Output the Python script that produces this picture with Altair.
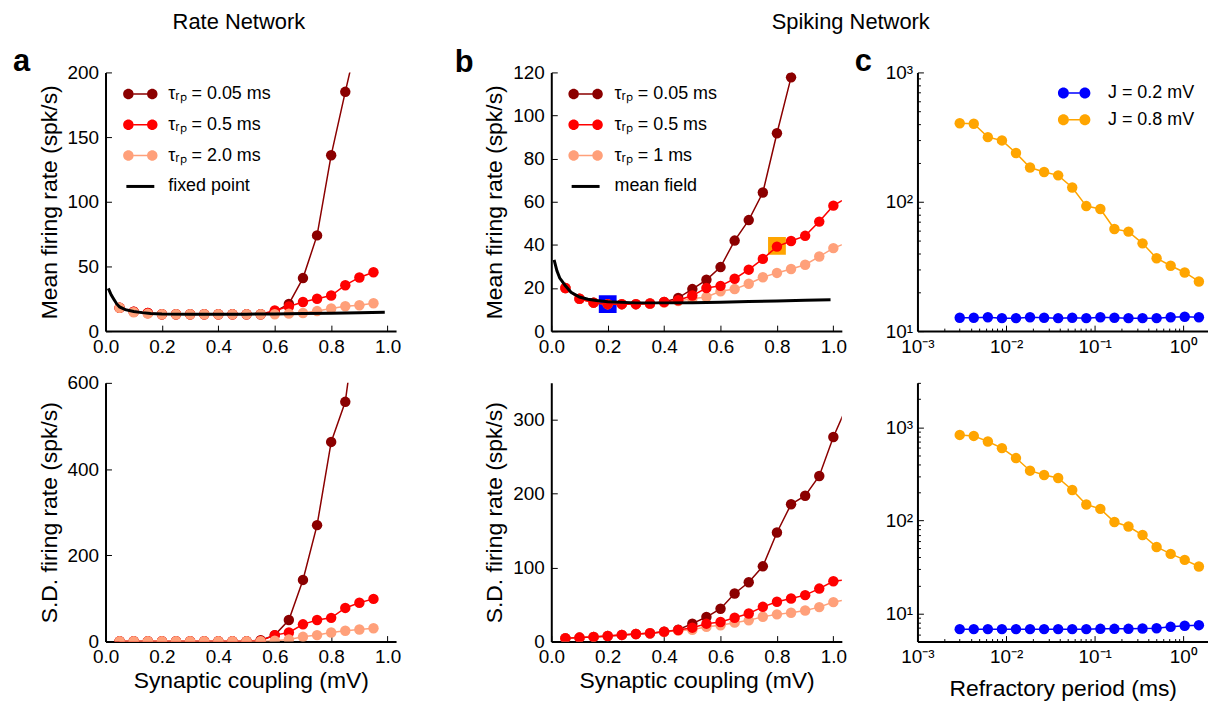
import altair as alt
import pandas as pd

FONT = "Liberation Sans"
DARK, RED, PALE = "#8b0000", "#ff0000", "#ffa07a"
BLUE, ORANGE = "#0000ff", "#ffa500"

# ---------------- data: panel a (rate network) ----------------
a_x = [0.05, 0.10, 0.15, 0.20, 0.25, 0.30, 0.35, 0.40, 0.45, 0.50,
       0.55, 0.60, 0.65, 0.70, 0.75, 0.80, 0.85, 0.90, 0.95]
a_mean_005 = [18, 15, 14, 13, 13, 13, 13, 13, 13, 13, 13, 15, 21, 41, 74, 136, 185, 232]
a_mean_05 = [18, 15, 14, 13, 13, 13, 13, 13, 13, 13, 13, 16, 19, 22.5, 25, 27.5, 35.5, 41.5, 45.5]
a_mean_20 = [18, 14.6, 13.5, 13, 13, 13, 13, 13, 13, 13, 13, 13, 13.5, 14, 15.5, 17.5, 19.2, 20, 21.5]
a_sd_005 = [1, 1, 1, 1, 1, 1, 1, 1, 1, 1, 3, 15, 50, 143, 270, 463, 556, 800]
a_sd_05 = [1, 1, 1, 1, 1, 1, 1, 1, 1, 1, 2, 15, 21, 40, 50, 55, 78, 90, 99]
a_sd_20 = [1, 1, 1, 1, 1, 1, 1, 1, 1, 1, 1, 2, 5, 11, 15, 21, 25, 28, 31]
fp_x = [0.01, 0.02, 0.03, 0.04, 0.05, 0.07, 0.10, 0.13, 0.16, 0.20,
        0.30, 0.40, 0.50, 0.60, 0.70, 0.80, 0.90, 0.99]
fp_y = [33, 28, 24.5, 21, 18.7, 16.6, 15.2, 14.3, 13.7, 13.3,
        13, 13, 13.1, 13.3, 13.6, 13.9, 14.2, 14.5]

# ---------------- data: panel b (spiking network) ----------------
b_x = [0.05, 0.10, 0.15, 0.20, 0.25, 0.30, 0.35, 0.40, 0.45, 0.50,
       0.55, 0.60, 0.65, 0.70, 0.75, 0.80, 0.85, 0.90, 0.95, 1.00, 1.05]
b_mean_005 = [20, 15, 13.2, 12.5, 12.5, 12.5, 12.8, 13.5, 15.4, 19.5,
              23.8, 29.7, 42, 51.5, 64.3, 91.8, 117.7, 150]
b_mean_05 = [20, 15, 13.2, 12.5, 12.5, 12.5, 12.8, 13.5, 14.3, 16.5,
             20, 21, 24.3, 28.5, 33.5, 39.2, 41.8, 44.2, 50.8, 58.2, 62]
b_mean_1 = [20, 15, 13.2, 12.5, 12.5, 12.5, 12.8, 13.3, 14, 15,
            15.8, 18.5, 19.5, 22, 25, 27, 28.8, 30.8, 34.6, 38.5, 41]
b_sd_005 = [4.5, 5.4, 6.3, 7.6, 9, 10.3, 11.2, 13.4, 16, 24.2,
            33.2, 44.4, 65, 80.3, 101.8, 147.5, 185.7, 197.3, 224, 276.7, 320]
b_sd_05 = [4.5, 5.4, 6.3, 7.6, 9, 10.3, 11.2, 13.4, 15.7, 18.8,
           24.2, 26.5, 32.3, 38, 47, 53.8, 58.3, 62.8, 71.7, 81.6, 84]
b_sd_1 = [4.5, 5.4, 6.3, 7.6, 9, 10.3, 11.2, 13, 15, 16,
          20, 22, 25.6, 28.7, 33.6, 36.8, 39, 42, 46.6, 53.4, 57]
mf_x = [0.01, 0.02, 0.03, 0.04, 0.05, 0.07, 0.10, 0.13, 0.16, 0.20,
        0.30, 0.40, 0.50, 0.60, 0.70, 0.80, 0.90, 0.99]
mf_y = [33, 28, 24.6, 22.8, 21, 18, 15.8, 14.8, 14.2, 13.6,
        13.1, 13.1, 13.2, 13.4, 13.7, 14, 14.3, 14.6]
sq_blue_x, sq_blue_y = [0.2], [12.5]
sq_orange_x, sq_orange_y = [0.8], [39.5]

# ---------------- data: panel c (refractory period) ----------------
c_x = [0.003, 0.00432, 0.00623, 0.00898, 0.01294, 0.01864, 0.02687, 0.03872, 0.05579,
       0.0804, 0.1159, 0.167, 0.2406, 0.3467, 0.4996, 0.72, 1.0375, 1.5]
c_mean_08 = [405, 401, 316, 298, 238, 184, 170, 160, 129, 92.6, 87.9, 61.6, 58.8, 47.7, 36.6, 32, 28.4, 24.2]
c_mean_02 = [12.7, 12.7, 12.8, 12.6, 12.6, 12.8, 12.7, 12.6, 12.7, 12.6, 12.8, 12.7, 12.6, 12.6, 12.6, 12.8, 12.9, 12.8]
c_sd_08 = [828, 808, 703, 597, 467, 342, 307, 285, 212, 148, 133, 96, 86, 69.7, 51.9, 43.7, 37.7, 32]
c_sd_02 = [6.8, 6.8, 6.8, 6.8, 6.8, 6.8, 6.8, 6.8, 6.8, 6.8, 6.85, 6.85, 6.85, 6.9, 6.95, 7.2, 7.4, 7.5]

# ---------------- labels / ticks ----------------
lab_a = ["τᵣₚ = 0.05 ms", "τᵣₚ = 0.5 ms", "τᵣₚ = 2.0 ms", "fixed point"]
lab_b = ["τᵣₚ = 0.05 ms", "τᵣₚ = 0.5 ms", "τᵣₚ = 1 ms", "mean field"]
lab_c = ["J = 0.2 mV", "J = 0.8 mV"]
lin_x_ticks = [0.0, 0.2, 0.4, 0.6, 0.8, 1.0]
log_x_ticks = [0.001, 0.002, 0.003, 0.004, 0.005, 0.006, 0.007, 0.008, 0.009,
               0.01, 0.02, 0.03, 0.04, 0.05, 0.06, 0.07, 0.08, 0.09,
               0.1, 0.2, 0.3, 0.4, 0.5, 0.6, 0.7, 0.8, 0.9, 1.0]
log_y_ticks_top = [10, 20, 30, 40, 50, 60, 70, 80, 90, 100, 200, 300, 400, 500, 600, 700, 800, 900, 1000]
log_y_ticks_bot = [6, 7, 8, 9] + log_y_ticks_top + [2000, 3000]

W, H = 292, 260
TICK_FS, TITLE_FS = 19, 23


def dots_path(c, r, t):
    return (f"M {-c - r} 0 A {r} {r} 0 1 0 {-c + r} 0 A {r} {r} 0 1 0 {-c - r} 0 Z "
            f"M {c - r} 0 A {r} {r} 0 1 0 {c + r} 0 A {r} {r} 0 1 0 {c - r} 0 Z "
            f"M {-c + r} {-t} L {c - r} {-t} L {c - r} {t} L {-c + r} {t} Z")


P_DOTS = dots_path(1.0, 0.44, 0.065)
P_DOTS_C = dots_path(0.9, 0.46, 0.065)
P_LINE = "M -1.17 -0.125 L 1.17 -0.125 L 1.17 0.125 L -1.17 0.125 Z"

AX = dict(domainColor="black", domainWidth=2, tickColor="black", tickWidth=1,
          labelFont=FONT, labelFontSize=TICK_FS, labelColor="black", labelFlush=False,
          labelOverlap=False, grid=False, titleFont=FONT, titleFontSize=TITLE_FS,
          titleFontWeight="normal", titleColor="black")


def lin_x(title=None):
    return alt.Axis(values=lin_x_ticks, format=".1f", title=title, tickSize=alt.ExprRef("-6"),
                    labelPadding=12, titlePadding=3, **AX)


def lin_y(values, title):
    return alt.Axis(values=values, format="d", title=title, tickSize=alt.ExprRef("-6"),
                    labelPadding=13, titlePadding=6, **AX)


MAJOR = "indexof([0.001, 0.01, 0.1, 1, 10, 100, 1000], datum.value) >= 0 ? -6 : -3"
X_LOG_LAB = ("datum.value == 0.001 ? '10⁻³' : datum.value == 0.01 ? '10⁻²' : "
             "datum.value == 0.1 ? '10⁻¹' : datum.value == 1 ? '10⁰' : ''")
Y_LOG_LAB = ("datum.value == 10 ? '10¹' : datum.value == 100 ? '10²' : "
             "datum.value == 1000 ? '10³' : ''")


def log_x(title=None):
    return alt.Axis(values=log_x_ticks, labelExpr=X_LOG_LAB, title=title, tickSize=alt.ExprRef(MAJOR),
                    labelPadding=12, titlePadding=8, **AX)


def log_y(values):
    return alt.Axis(values=values, labelExpr=Y_LOG_LAB, title=None, tickSize=alt.ExprRef(MAJOR),
                    labelPadding=11, **AX)


class Panel:
    def __init__(self, xsc, ysc, xax, yax):
        self.xsc, self.ysc, self.xax, self.yax = xsc, ysc, xax, yax

    def xy(self):
        return dict(x=alt.X("x:Q", scale=self.xsc, axis=self.xax),
                    y=alt.Y("y:Q", scale=self.ysc, axis=self.yax))

    def series(self, xs, ys, color, width=1.5, dots=True):
        df = pd.DataFrame({"x": xs[:len(ys)], "y": ys})
        base = alt.Chart(df)
        out = [base.mark_line(color=color, strokeWidth=width, clip=True).encode(**self.xy())]
        if dots:
            out.append(base.mark_circle(color=color, size=110, opacity=1, clip=True).encode(**self.xy()))
        return out

    def squares(self, xs, ys, color):
        return alt.Chart(pd.DataFrame({"x": xs, "y": ys})).mark_square(
            size=320, color=color, opacity=1, clip=True).encode(**self.xy())

    def guide(self, frames, domain=None, colors=None, shapes=None, legend=None):
        df = pd.concat(frames, ignore_index=True)
        enc = self.xy()
        if legend is not None:
            enc["color"] = alt.Color("series:N", scale=alt.Scale(domain=domain, range=colors), legend=legend)
            enc["shape"] = alt.Shape("series:N", scale=alt.Scale(domain=domain, range=shapes), legend=legend)
        return alt.Chart(df).mark_point(filled=True, opacity=0, clip=True).encode(**enc)


def frame(xs, ys, name):
    return pd.DataFrame({"x": xs[:len(ys)], "y": ys, "series": name})


def make_legend(lx, ly, rowpad, loff):
    return alt.Legend(title=None, orient="none", legendX=lx, legendY=ly, symbolSize=576,
                      symbolStrokeWidth=0, symbolOpacity=1, labelFont=FONT, labelFontSize=18,
                      labelColor="black", labelOffset=loff, rowPadding=rowpad, padding=0,
                      labelLimit=400)


one = pd.DataFrame({"k": [0]})


def text(t, x, y, size, weight="normal", align="left"):
    return alt.Chart(one).mark_text(
        text=t, font=FONT, fontSize=size, fontWeight=weight, align=align,
        baseline="alphabetic", color="black").encode(x=alt.value(x), y=alt.value(y))


anchor = alt.Chart(one).mark_circle(size=1, opacity=0).encode(x=alt.value(-97), y=alt.value(-62))

# ---------------- panel a ----------------
xs_lin = alt.Scale(domain=[0, 1.03], nice=False, zero=False)

pa1 = Panel(xs_lin, alt.Scale(domain=[0, 200], nice=False), lin_x(),
            lin_y([0, 50, 100, 150, 200], "Mean firing rate (spk/s)"))
a_top = alt.layer(
    pa1.guide([frame(a_x, a_mean_05, lab_a[1]), frame(fp_x, fp_y, lab_a[3]),
               frame(a_x, a_mean_005, lab_a[0]), frame(a_x, a_mean_20, lab_a[2])],
              lab_a, [DARK, RED, PALE, "black"], [P_DOTS, P_DOTS, P_DOTS, P_LINE],
              make_legend(23, 9.6, 10, 16)),
    *pa1.series(a_x, a_mean_005, DARK),
    *pa1.series(a_x, a_mean_05, RED),
    *pa1.series(a_x, a_mean_20, PALE),
    *pa1.series(fp_x, fp_y, "black", width=3, dots=False),
    text("a", -93, -1, 31, "bold"),
    text("Rate Network", 134, -44, 22, align="center"),
    anchor,
).properties(width=W, height=H)

pa2 = Panel(xs_lin, alt.Scale(domain=[0, 600], nice=False), lin_x("Synaptic coupling (mV)"),
            lin_y([0, 200, 400, 600], "S.D. firing rate (spk/s)"))
a_bot = alt.layer(
    *pa2.series(a_x, a_sd_005, DARK),
    *pa2.series(a_x, a_sd_05, RED),
    *pa2.series(a_x, a_sd_20, PALE),
).properties(width=W, height=H)

# ---------------- panel b ----------------
pb1 = Panel(xs_lin, alt.Scale(domain=[0, 120], nice=False), lin_x(),
            lin_y([0, 20, 40, 60, 80, 100, 120], "Mean firing rate (spk/s)"))
b_top = alt.layer(
    pb1.guide([frame(b_x, b_mean_05, lab_b[1]), frame(mf_x, mf_y, lab_b[3]),
               frame(b_x, b_mean_005, lab_b[0]), frame(b_x, b_mean_1, lab_b[2])],
              lab_b, [DARK, RED, PALE, "black"], [P_DOTS, P_DOTS, P_DOTS, P_LINE],
              make_legend(22.5, 9.6, 10, 17)),
    pb1.squares(sq_blue_x, sq_blue_y, BLUE),
    pb1.squares(sq_orange_x, sq_orange_y, ORANGE),
    *pb1.series(b_x, b_mean_005, DARK),
    *pb1.series(b_x, b_mean_1, PALE),
    *pb1.series(b_x, b_mean_05, RED),
    *pb1.series(mf_x, mf_y, "black", width=3, dots=False),
    text("b", -97, 0, 31, "bold"),
    text("Spiking Network", 301, -44, 22, align="center"),
).properties(width=W, height=H)

pb2 = Panel(xs_lin, alt.Scale(domain=[0, 350], nice=False), lin_x("Synaptic coupling (mV)"),
            lin_y([0, 100, 200, 300], "S.D. firing rate (spk/s)"))
b_bot = alt.layer(
    *pb2.series(b_x, b_sd_005, DARK),
    *pb2.series(b_x, b_sd_1, PALE),
    *pb2.series(b_x, b_sd_05, RED),
).properties(width=W, height=H)

# ---------------- panel c ----------------
xs_log = alt.Scale(type="log", domain=[0.001, 1.9], nice=False)

pc1 = Panel(xs_log, alt.Scale(type="log", domain=[10, 1000], nice=False), log_x(), log_y(log_y_ticks_top))
c_top = alt.layer(
    pc1.guide([frame(c_x, c_mean_02, lab_c[0]), frame(c_x, c_mean_08, lab_c[1])],
              lab_c, [BLUE, ORANGE], [P_DOTS_C, P_DOTS_C], make_legend(145.5, 8.6, 5.9, 22)),
    *pc1.series(c_x, c_mean_02, BLUE),
    *pc1.series(c_x, c_mean_08, ORANGE),
    text("c", -63, -1, 31, "bold"),
).properties(width=W, height=H)

pc2 = Panel(xs_log, alt.Scale(type="log", domain=[5, 3000], nice=False),
            log_x("Refractory period (ms)"), log_y(log_y_ticks_bot))
c_bot = alt.layer(
    *pc2.series(c_x, c_sd_02, BLUE),
    *pc2.series(c_x, c_sd_08, ORANGE),
).properties(width=W, height=H)


def spacer():
    return alt.Chart(one).mark_point(opacity=0).encode(
        x=alt.value(0), y=alt.value(0)).properties(width=4, height=H)


chart = alt.concat(
    a_top, spacer(), b_top, c_top,
    a_bot, spacer(), b_bot, c_bot,
    columns=4, spacing={"row": 52, "column": 76}, bounds="flush",
).resolve_scale(color="independent", shape="independent").properties(padding=0)
chart = chart.configure(font=FONT).configure_view(stroke=None)

chart.save("out.html", embed_options={"renderer": "svg", "actions": False})
